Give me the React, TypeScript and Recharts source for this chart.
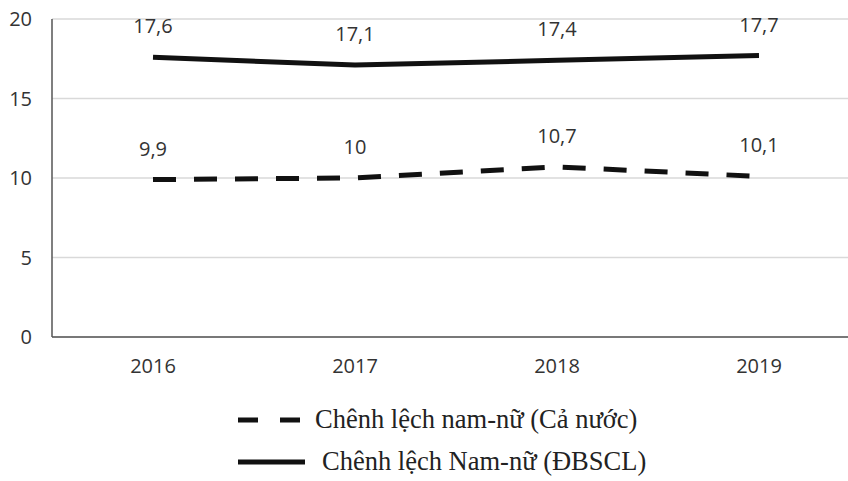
import { LineChart, Line, XAxis, YAxis, CartesianGrid, LabelList } from "recharts";

const years = ["2016", "2017", "2018", "2019"];
const caNuoc = [9.9, 10, 10.7, 10.1];
const dbscl = [17.6, 17.1, 17.4, 17.7];
const yTicks = [0, 5, 10, 15, 20];

const data = years.map((year, i) => ({ year, caNuoc: caNuoc[i], dbscl: dbscl[i] }));

const tickStyle = { fill: "#333", fontSize: 20, fontFamily: "'Open Sans', sans-serif" };
const fmt = (v: unknown) => String(v).replace(".", ",");

export default function App() {
  return (
    <div
      style={{
        position: "absolute",
        left: 0,
        top: 0,
        width: 848,
        height: 481,
        overflow: "hidden",
        background: "#fff",
      }}
    >
      <LineChart width={860} height={481} data={data} margin={{ top: 19, right: 0, left: 0, bottom: 114 }}>
        <CartesianGrid vertical={false} stroke="#d9d9d9" strokeWidth={1.5} />
        <XAxis
          dataKey="year"
          height={30}
          padding={{ left: 101, right: 101 }}
          tickSize={0}
          tickMargin={22}
          tick={tickStyle}
          axisLine={{ stroke: "#555", strokeWidth: 1.5 }}
        />
        <YAxis
          width={52}
          domain={[0, 20]}
          ticks={yTicks}
          tickSize={0}
          tickMargin={20}
          tick={tickStyle}
          axisLine={{ stroke: "#555", strokeWidth: 1.5 }}
        />
        <Line
          dataKey="dbscl"
          type="linear"
          stroke="#111"
          strokeWidth={5}
          dot={false}
          isAnimationActive={false}
        >
          <LabelList dataKey="dbscl" position="top" offset={24} formatter={fmt} style={tickStyle} />
        </Line>
        <Line
          dataKey="caNuoc"
          type="linear"
          stroke="#111"
          strokeWidth={5}
          strokeDasharray="23 18"
          dot={false}
          isAnimationActive={false}
        >
          <LabelList dataKey="caNuoc" position="top" offset={24} formatter={fmt} style={tickStyle} />
        </Line>
      </LineChart>
      <div
        style={{
          position: "absolute",
          left: 238,
          top: 404,
          display: "flex",
          alignItems: "center",
          fontFamily: "'Liberation Serif', 'Times New Roman', serif",
          fontSize: 26.5,
          color: "#222",
          whiteSpace: "nowrap",
        }}
      >
        <svg width={64} height={10} style={{ marginRight: 13 }}>
          <line x1={0} y1={5} x2={62} y2={5} stroke="#111" strokeWidth={5} strokeDasharray="20 22" />
        </svg>
        Chênh lệch nam-nữ (Cả nước)
      </div>
      <div
        style={{
          position: "absolute",
          left: 238,
          top: 446,
          display: "flex",
          alignItems: "center",
          fontFamily: "'Liberation Serif', 'Times New Roman', serif",
          fontSize: 26.5,
          color: "#222",
          whiteSpace: "nowrap",
        }}
      >
        <svg width={68} height={10} style={{ marginRight: 16 }}>
          <line x1={0} y1={5} x2={67} y2={5} stroke="#111" strokeWidth={5} />
        </svg>
        Chênh lệch Nam-nữ (ĐBSCL)
      </div>
    </div>
  );
}
